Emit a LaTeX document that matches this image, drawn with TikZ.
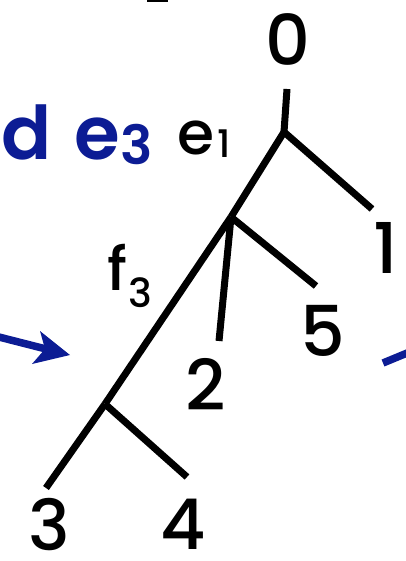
\documentclass[tikz,border=0pt]{standalone}
\usepackage{fontspec}
\setmainfont{Poppins Medium}
\newfontfamily\bluefont{Poppins SemiBold}
\definecolor{slideblue}{RGB}{12,28,148}
\tikzset{
  branch/.style={line width=7pt, line cap=butt, line join=miter, black},
  leaflabel/.style={inner sep=0pt, font=\fontsize{70}{70}\selectfont},
  edgelabel/.style={inner sep=0pt, anchor=base west, font=\fontsize{60}{60}\selectfont},
  bluestroke/.style={line width=7.5pt, slideblue, line cap=butt},
}
\begin{document}
\begin{tikzpicture}[x=1pt,y=-1pt]
\useasboundingbox (0,0) rectangle (406,561);
% top remnant
\fill[black] (147,0) rectangle (168,2.5);
% blue text
\node[inner sep=0pt, anchor=base east, text=slideblue,
  font=\fontsize{74}{74}\bluefont] (title) at (153,160)
  {nd\hspace{6pt} e\raisebox{-5pt}{\fontsize{54}{54}\selectfont 3}};
% blue arrow
\coordinate (arrS) at (-5,336);
\coordinate (arrE) at (46,349);
\draw[bluestroke] (arrS) -- (arrE);
\fill[slideblue] (70,355) -- (40,331) -- (45,349) -- (32,364) -- cycle;
% right blue stroke
\coordinate (rbS) at (383,363);
\coordinate (rbE) at (412,351);
\draw[bluestroke] (rbS) -- (rbE);
% tree coordinates
\coordinate (top) at (287,89);
\coordinate (a) at (284,132);
\coordinate (b) at (231,217);
\coordinate (c) at (105,404);
\coordinate (e1end) at (372,209);
\coordinate (e5end) at (316,286);
\coordinate (e2end) at (219,341);
\coordinate (e3end) at (46,488);
\coordinate (e4end) at (187,477);
\draw[branch] (top) -- (a);
\draw[branch] (a) -- (e1end);
\draw[branch] (a) -- (b);
\draw[branch] (b) -- (e5end);
\draw[branch] (b) -- (e2end);
\draw[branch] (b) -- (c);
\draw[branch] (c) -- (e3end);
\draw[branch] (c) -- (e4end);
% leaf labels
\node[leaflabel] (n0) at (288,40) {0};
\node[leaflabel] (n1) at (386,248) {1};
\node[leaflabel] (n5) at (323,331) {5};
\node[leaflabel] (n2) at (206,384) {2};
\node[leaflabel] (n3) at (49,525) {3};
\node[leaflabel] (n4) at (183,524) {4};
% edge labels
\node[edgelabel] (le1) at (177,155) {e\hspace{3pt}\raisebox{-3pt}{\fontsize{38}{38}\selectfont 1}};
\node[edgelabel] (lf3) at (107,290) {f\hspace{1pt}\raisebox{-17pt}{\fontsize{40}{40}\selectfont 3}};
\end{tikzpicture}
\end{document}
